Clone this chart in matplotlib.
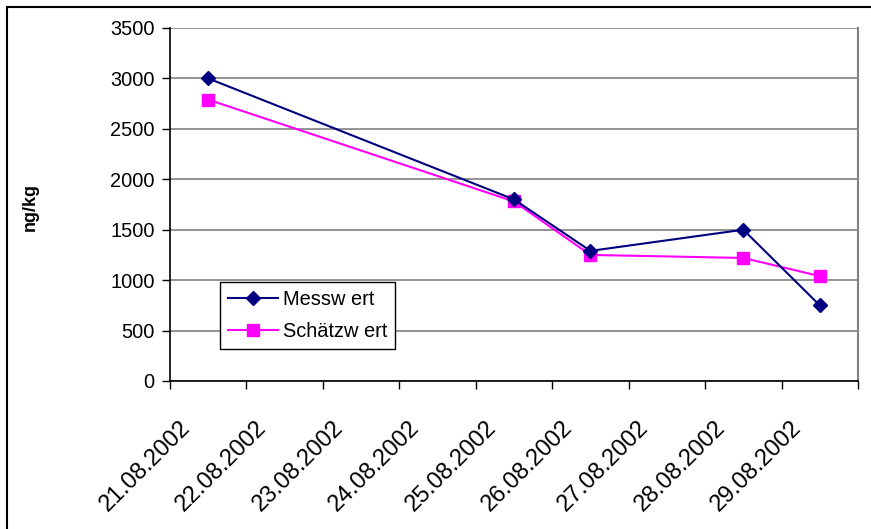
import matplotlib
matplotlib.use("Agg")
import matplotlib.pyplot as plt
from matplotlib.lines import Line2D

plt.rcParams["font.family"] = ["Liberation Sans", "DejaVu Sans"]

datums = ["21.08.2002", "22.08.2002", "23.08.2002", "24.08.2002", "25.08.2002",
          "26.08.2002", "27.08.2002", "28.08.2002", "29.08.2002"]
# Messungen nur an einigen Tagen (Index in datums)
mess_tage = [0, 4, 5, 7, 8]
messwert = [3000, 1800, 1290, 1500, 750]
schaetzwert = [2790, 1780, 1250, 1220, 1040]

fig = plt.figure(figsize=(8.71, 5.29), dpi=100)
ax = fig.add_axes([170/871, 1-381/529, 688/871, 353/529])

ax.plot(mess_tage, messwert, color="#000080", lw=1.5, marker="D", markersize=7,
        label="Messw ert", zorder=4)
ax.plot(mess_tage, schaetzwert, color="#FF00FF", lw=1.5, marker="s", markersize=8,
        label="Schätzw ert", zorder=3)

ax.set_xlim(-0.5, len(datums) - 0.5)
ax.set_ylim(0, 3500)
ax.set_yticks(range(0, 3501, 500))
ax.grid(axis="y", color="#808080", lw=1.2)
ax.set_axisbelow(True)

# Beschriftung etwas links der Kategorienmitte, wie in Excel
ax.set_xticks([i - 0.28 for i in range(len(datums))])
ax.set_xticklabels(datums, rotation=45, ha="right", va="center", rotation_mode="anchor",
                   fontsize=17)
ax.set_xticks([i - 0.5 for i in range(len(datums) + 1)], minor=True)
ax.tick_params(axis="x", which="major", length=0, pad=31)
ax.tick_params(axis="x", which="minor", length=6, width=1, color="black")
ax.tick_params(axis="y", length=6, width=1, pad=5, labelsize=14.4)

for s in ["left", "bottom"]:
    ax.spines[s].set_color("black")
    ax.spines[s].set_linewidth(1.2)
ax.spines["top"].set_visible(False)
ax.spines["right"].set_color("#808080")
ax.spines["right"].set_linewidth(1.5)

fig.text(30/871, 1-207/529, "ng/kg", rotation=90, fontsize=13, fontweight="bold",
         ha="center", va="center")

leg = ax.legend(loc="upper left", bbox_to_anchor=(50/688, 99/353), borderaxespad=0,
                fancybox=False, edgecolor="black", fontsize=14.4, handlelength=2.5,
                handletextpad=0.25, borderpad=0.4, framealpha=1, labelspacing=0.65)
leg.get_frame().set_linewidth(1)

# Rahmen um das Diagramm
fig.add_artist(Line2D([7/871, 1], [1-7/529, 1-7/529], color="black", lw=1.5))
fig.add_artist(Line2D([7/871, 7/871], [0, 1-7/529], color="black", lw=1.5))

fig.savefig("out.png", dpi=100)
